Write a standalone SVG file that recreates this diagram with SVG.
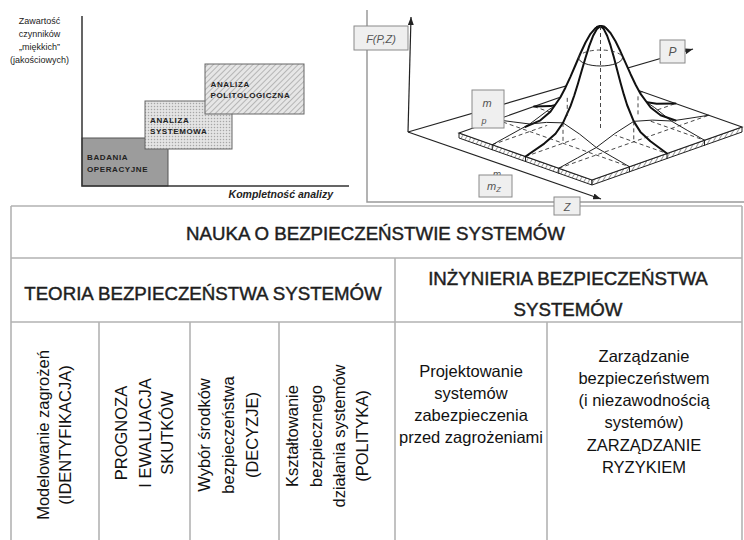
<svg xmlns="http://www.w3.org/2000/svg" width="744" height="540" viewBox="0 0 744 540">
<defs>
<style>
.sans{font-family:"Liberation Sans",Arial,sans-serif}
.tl{stroke:#b3b3b3;stroke-width:1.6;fill:none}
.hd{font-family:"Liberation Sans",Arial,sans-serif;font-size:18.7px;fill:#1e1e1e;text-anchor:middle;stroke:#1e1e1e;stroke-width:0.45}
.cl{font-family:"Liberation Sans",Arial,sans-serif;font-size:16.5px;fill:#111;text-anchor:middle}
.bx{font-family:"Liberation Sans",Arial,sans-serif;font-size:8px;font-weight:bold;letter-spacing:0.6px;fill:#222}
.lb{font-family:"Liberation Sans",Arial,sans-serif;font-style:italic;fill:#555;text-anchor:middle}
.lbox{fill:#efefef;stroke:#8a8a8a;stroke-width:1}
.ax{stroke:#222;stroke-width:1.2;fill:none}
.s1{fill:none;stroke:#222;stroke-width:1;stroke-linejoin:round;stroke-linecap:round}
.s2{fill:none;stroke:#111;stroke-width:2;stroke-linejoin:round;stroke-linecap:round}
.ds{fill:none;stroke:#333;stroke-width:0.9;stroke-dasharray:4 3}
.fr{stroke:#9a9a9a;stroke-width:1.5;fill:none}
</style>
<pattern id="dots" width="3" height="3" patternUnits="userSpaceOnUse"><rect width="3" height="3" fill="#e4e4e4"/><circle cx="1.5" cy="1.5" r="0.75" fill="#a6a6a6"/></pattern>
<pattern id="hatch" width="4" height="4" patternUnits="userSpaceOnUse" patternTransform="rotate(45)"><rect width="4" height="4" fill="#e6e6e6"/><line x1="0" y1="0" x2="0" y2="4" stroke="#9a9a9a" stroke-width="1.3"/></pattern>
<pattern id="slab" width="4" height="4" patternUnits="userSpaceOnUse" patternTransform="rotate(30)"><rect width="4" height="4" fill="#fff"/><line x1="0" y1="0" x2="0" y2="4" stroke="#222" stroke-width="0.9"/></pattern>
<marker id="ah" viewBox="0 0 8 6" refX="8" refY="3" markerWidth="8" markerHeight="6" markerUnits="userSpaceOnUse" orient="auto"><path d="M0,0 L8,3 L0,6 z" fill="#222"/></marker>
</defs>
<rect width="744" height="540" fill="#fff"/>

<!-- Table -->
<g id="table-lines">
  <path class="tl" d="M11,206 L742,206 M11,258 L742,258 M11,322 L742,322 M11,206 L11,540 M742,206 L742,540 M395,258 L395,540 M99,322 L99,540 M190,322 L190,540 M279,322 L279,540 M547,322 L547,540"/>
</g>
<g id="cell-nauka">
  <text class="hd" x="375.5" y="240">NAUKA O BEZPIECZEŃSTWIE SYSTEMÓW</text>
</g>
<g id="cell-teoria">
  <text class="hd" x="203" y="300">TEORIA BEZPIECZEŃSTWA SYSTEMÓW</text>
</g>
<g id="cell-inzynieria">
  <text class="hd"><tspan x="568" y="284.5">INŻYNIERIA BEZPIECZEŃSTWA</tspan><tspan x="568" y="315.5">SYSTEMÓW</tspan></text>
</g>
<g id="cell-modelowanie">
  <text class="cl" transform="translate(48.5,435) rotate(-90)">Modelowanie zagrożeń</text>
  <text class="cl" transform="translate(71,435) rotate(-90)">(IDENTYFIKACJA)</text>
</g>
<g id="cell-prognoza">
  <text class="cl" transform="translate(127,433) rotate(-90)">PROGNOZA</text>
  <text class="cl" transform="translate(150.5,433) rotate(-90)">I EWALUACJA</text>
  <text class="cl" transform="translate(172.5,433) rotate(-90)">SKUTKÓW</text>
</g>
<g id="cell-wybor">
  <text class="cl" transform="translate(210,435) rotate(-90)">Wybór środków</text>
  <text class="cl" transform="translate(233.5,435) rotate(-90)">bezpieczeństwa</text>
  <text class="cl" transform="translate(258,435) rotate(-90)">(DECYZJE)</text>
</g>
<g id="cell-ksztaltowanie">
  <text class="cl" transform="translate(298,436) rotate(-90)">Kształtowanie</text>
  <text class="cl" transform="translate(321.5,436) rotate(-90)">bezpiecznego</text>
  <text class="cl" transform="translate(345,436) rotate(-90)">działania systemów</text>
  <text class="cl" transform="translate(368,436) rotate(-90)">(POLITYKA)</text>
</g>
<g id="cell-projektowanie">
  <text class="cl"><tspan x="471" y="377">Projektowanie</tspan><tspan x="471" y="399">systemów</tspan><tspan x="471" y="421">zabezpieczenia</tspan><tspan x="471" y="443">przed zagrożeniami</tspan></text>
</g>
<g id="cell-zarzadzanie">
  <text class="cl"><tspan x="644" y="362">Zarządzanie</tspan><tspan x="644" y="384">bezpieczeństwem</tspan><tspan x="644" y="406">(i niezawodnością</tspan><tspan x="644" y="428">systemów)</tspan><tspan x="644" y="450.5">ZARZĄDZANIE</tspan><tspan x="644" y="473">RYZYKIEM</tspan></text>
</g>

<!-- Left chart -->
<g id="chart-left">
  <text class="sans" font-size="9" fill="#222" text-anchor="middle"><tspan x="39.5" y="24">Zawartość</tspan><tspan x="39.5" y="37">czynników</tspan><tspan x="39.5" y="50">„miękkich”</tspan><tspan x="39.5" y="63">(jakościowych)</tspan></text>
  <g id="box-badania">
    <rect x="82" y="138" width="86" height="48" fill="#9c9c9c" stroke="#555" stroke-width="1"/>
    <text class="bx"><tspan x="87" y="159.5">BADANIA</tspan><tspan x="87" y="171.5">OPERACYJNE</tspan></text>
  </g>
  <g id="box-systemowa">
    <rect x="145" y="101" width="87" height="48" fill="url(#dots)" stroke="#666" stroke-width="1"/>
    <text class="bx"><tspan x="150" y="123">ANALIZA</tspan><tspan x="150" y="134">SYSTEMOWA</tspan></text>
  </g>
  <g id="box-politologiczna">
    <rect x="205" y="64" width="99" height="50" fill="url(#hatch)" stroke="#666" stroke-width="1"/>
    <text class="bx"><tspan x="210.5" y="86.5">ANALIZA</tspan><tspan x="210.5" y="97.5">POLITOLOGICZNA</tspan></text>
  </g>
  <path d="M82,16 L82,186 L349,186" fill="none" stroke="#333" stroke-width="1.5"/>
  <text class="sans" x="333" y="198" font-size="10.5" font-weight="bold" font-style="italic" fill="#222" text-anchor="end">Kompletność analizy</text>
</g>

<!-- Right 3D chart -->
<g id="chart-right">
  <path class="fr" d="M367,10 L367,202 L744,202"/>
  <g id="axes">
    <path class="ax" d="M408,132 L693,49" marker-end="url(#ah)"/>
    <path class="ax" d="M408,132 L411,17" marker-end="url(#ah)"/>
    <path class="ax" d="M408,132 L601,199" marker-end="url(#ah)"/>
  </g>
  <g id="surface">
    <path d="M459,133 L592,180 L592,185 L459,138 Z" fill="url(#slab)" stroke="#222" stroke-width="1"/>
    <path d="M592,180 L742,127 L742,132 L592,185 Z" fill="url(#slab)" stroke="#222" stroke-width="1"/>
    <path d="M459,133 L592,180 L742,127 L609,80 Z" fill="#fff" stroke="#222" stroke-width="1.1"/>
    <path class="s1" d="M492.25,144.75v5 M525.5,156.5v5 M558.75,168.25v5 M629.5,166.75v5 M667,153.5v5 M704.5,140.25v5"/>
    <path class="ds" d="M492.25,144.75 L642.25,91.75 M525.5,156.5 L675.5,103.5 M558.75,168.25 L708.75,115.25 M496.5,119.75 L629.5,166.75 M534,106.5 L667,153.5 M571.5,93.25 L704.5,140.25"/>
    <path class="s1" d="M492.25,144.75 L511,134.4 L529.75,124 L548.5,109.9 L567.25,97.85 L586,96.6 L604.75,97.5 L623.5,94.7 L642.25,91.75"/>
    <path class="s1" d="M571.5,93.25 L588.1,95.4 L604.75,97.5 L621.4,95.9 L638,96.35 L654.6,107.6 L671.25,121 L687.9,130.7 L704.5,140.25"/>
    <path class="s2" d="M600.5,26 L604.25,26.6 L608,30.75 L611.75,37.9 L615.5,47.1 L619.25,57.3 L623,67.55 L626.75,76.9 L630.5,85 L638,96.35 L645.5,101.9 L656.75,103.8 L675.5,103.5"/>
    <path class="s2" d="M534,106.5 L550.6,106.1 L560.6,103.7 L567.25,97.85 L573.9,86.2 L577.2,78 L580.55,68.45 L583.9,58 L587.2,47.7 L590.5,38.4 L593.85,31.05 L597.2,26.7 L600.5,26"/>
    <path d="M540.4,120.3 L550.4,111.7 L560.4,97.3 L565.4,87.7 L570.4,76.8 L575.5,65 L580.5,53.25 L585.5,42.5 L590.5,33.8 L595.5,28.1 L600.5,26 L605.5,27.7 L610.5,33 L615.5,41.3 L620.5,51.55 L625.55,62.8 L630.6,74.2 L635.6,84.7 L640.6,93.9 L650.6,107.5 L660.6,115.3 Q586.1,160.2 540.4,120.3 Z" fill="#fff"/>
    <path class="s2" d="M525.4,126.9 L540.4,120.3 L550.4,111.7 L560.4,97.3 L565.4,87.7 L570.4,76.8 L575.5,65 L580.5,53.25 L585.5,42.5 L590.5,33.8 L595.5,28.1 L600.5,26 L605.5,27.7 L610.5,33 L615.5,41.3 L620.5,51.55 L625.55,62.8 L630.6,74.2 L635.6,84.7 L640.6,93.9 L650.6,107.5 L660.6,115.3 L675.6,120.5"/>
    <path class="s1" d="M558.75,168.25 L577.5,157.9 L596.25,147.5 L615,133.4 L633.75,121.35 L652.5,120.1 L671.25,121 L690,118.2 L708.75,115.25"/>
    <path class="s1" d="M496.5,119.75 L513.1,121.9 L529.75,124 L546.4,122.4 L563,122.85 L579.6,134.1 L596.25,147.5 L612.9,157.2 L629.5,166.75"/>
    <path class="s2" d="M525.5,156.5 L544.25,143.6 L555.5,133.7 L563,122.85 L570.5,106.2 L574.25,95.5 L578,83.45 L581.75,70.5 L585.5,57.7 L589.25,45.9 L593,36.05 L596.75,29.2 L600.5,26"/>
    <path class="s2" d="M600.5,26 L603.8,29.1 L607.15,35.75 L610.5,45.4 L613.8,57.1 L617.1,69.8 L620.45,82.55 L623.8,94.4 L627.1,105 L633.75,121.35 L640.4,131.9 L650.4,141.3 L667,153.5"/>
    <path class="ds" d="M600.5,26 L600.5,130 M567.25,97.85 L567.25,118.25 M633.75,121.35 L633.75,141.75 M563,122.85 L563,143.25 M638,96.35 L638,116.75"/>
    <path class="ds" d="M578.5,58 A22,8 0 0 1 622.5,58"/>
    <path class="s1" d="M578.5,58 A22,8 0 0 0 622.5,58"/>
  </g>
  <g id="label-fpz">
    <rect class="lbox" x="354" y="26" width="54" height="24"/>
    <text class="lb" x="381" y="42.5" font-size="11">F(P,Z)</text>
  </g>
  <g id="label-mp">
    <rect class="lbox" x="472" y="90" width="32" height="38"/>
    <text class="lb" x="487" y="107" font-size="11">m</text>
    <text class="lb" x="484" y="124" font-size="9">p</text>
  </g>
  <g id="label-p">
    <rect class="lbox" x="660" y="40" width="25" height="23"/>
    <text class="lb" x="672.5" y="56" font-size="12">P</text>
  </g>
  <g id="label-mz">
    <text class="lb" x="497" y="178" font-size="10">m</text>
    <rect class="lbox" x="479" y="175" width="33" height="22"/>
    <text class="lb" x="494" y="190" font-size="11">m<tspan font-size="7.5" dy="2">Z</tspan></text>
  </g>
  <g id="label-z">
    <rect class="lbox" x="554" y="197" width="26" height="18"/>
    <text class="lb" x="567" y="210.5" font-size="11">Z</text>
  </g>
</g>
</svg>
